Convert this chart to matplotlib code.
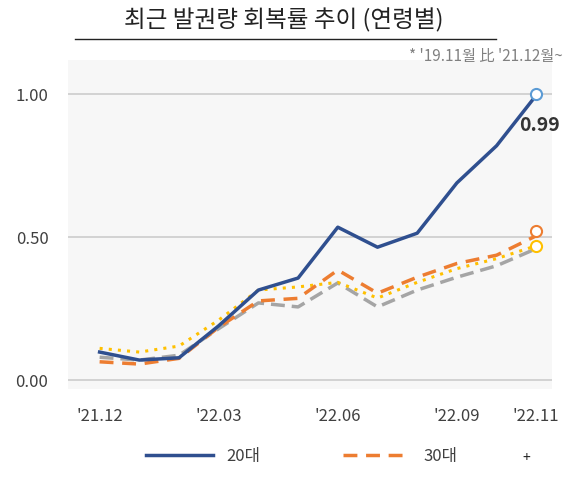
import matplotlib
matplotlib.use("Agg")
import matplotlib.pyplot as plt
from matplotlib.lines import Line2D

plt.rcParams['font.family'] = ['Noto Sans CJK KR', 'DejaVu Sans']

months = ["'21.12","'22.01","'22.02","'22.03","'22.04","'22.05","'22.06","'22.07","'22.08","'22.09","'22.10","'22.11"]
tick_labels = ["'21.12","'22.03","'22.06","'22.09","'22.11"]
s20 = [0.098,0.07,0.078,0.19,0.315,0.357,0.535,0.465,0.514,0.69,0.82,0.997]
s30 = [0.064,0.056,0.076,0.185,0.277,0.286,0.385,0.304,0.36,0.408,0.437,0.505]
s40 = [0.08,0.07,0.087,0.18,0.27,0.256,0.34,0.256,0.315,0.36,0.40,0.46]
s50 = [0.111,0.098,0.119,0.21,0.315,0.326,0.342,0.287,0.342,0.39,0.425,0.47]

fig = plt.figure(figsize=(5.8,4.84), dpi=100)
fig.patch.set_facecolor('white')
ax = fig.add_axes([0.117,0.197,0.835,0.679])
ax.set_facecolor('#f7f7f7')
x = list(range(len(months)))
ax.plot(x, s40, color='#a5a5a5', lw=2.5, ls=(0,(4,2)))
ax.plot(x, s50, color='#ffc000', lw=2.2, ls=(0,(1,2)))
ax.plot(x, s30, color='#ed7d31', lw=2.5, ls=(0,(4,2.5)))
ax.plot(x, s20, color='#2f4f8f', lw=2.5)
ax.plot(11, 1.0, 'o', ms=8, mfc='white', mec='#5b9bd5', mew=1.5)
ax.plot(11, 0.52, 'o', ms=8, mfc='white', mec='#ed7d31', mew=1.5)
ax.plot(11, 0.47, 'o', ms=8, mfc='white', mec='#ffc000', mew=1.5)
ax.text(11.6, 0.87, '0.99', ha='right', fontsize=14, fontweight='bold', color='#333333')
ax.set_ylim(-0.03, 1.12)
ax.set_xlim(-0.8, 11.4)
ax.set_yticks([0, 0.5, 1.0])
ax.set_yticklabels(['0.00','0.50','1.00'])
ax.set_xticks([0,3,6,9,11])
ax.set_xticklabels(tick_labels)
ax.yaxis.grid(True, color='#d0d0d0', lw=1.3)
ax.set_axisbelow(True)
for s in ax.spines.values():
    s.set_visible(False)
ax.tick_params(length=0, labelsize=12, colors='#404040', pad=14)
fig.text(0.49, 0.958, '최근 발권량 회복률 추이 (연령별)', ha='center', va='center', fontsize=17, color='#222222')
fig.add_artist(Line2D([0.13,0.855],[0.92,0.92], color='#222222', lw=1))
fig.text(0.97, 0.875, "* '19.11월 比 '21.12월~", ha='right', fontsize=11, color='#808080')
h = [Line2D([],[],color='#2f4f8f',lw=2.5), Line2D([],[],color='#ed7d31',lw=2.5,ls=(0,(4,2.5)))]
fig.legend(h, ['20대','30대'], loc='center', bbox_to_anchor=(0.52,0.057), ncol=2, frameon=False,
           fontsize=12, handlelength=4, columnspacing=5, labelcolor='#404040')
fig.text(0.9, 0.045, '+', fontsize=10, color='#222222')
fig.savefig('out.png', dpi=100)
